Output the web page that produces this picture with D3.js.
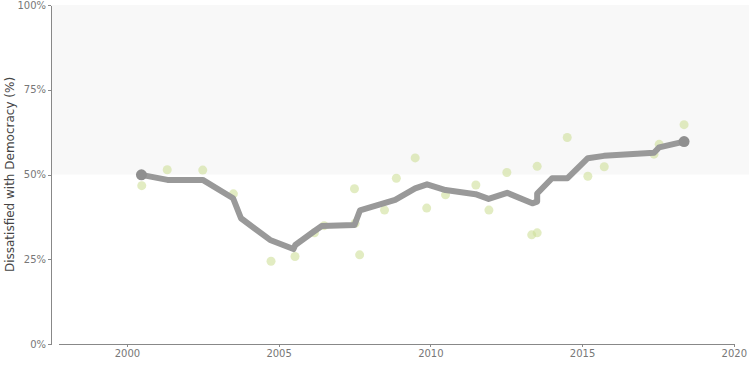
<!DOCTYPE html>
<head>
<meta charset="utf-8">
<title>Dissatisfied with Democracy</title>
<script src="https://cdn.jsdelivr.net/npm/d3@7/dist/d3.min.js"></script>
<style>
	body { margin: 0; background: #fff; }
	.axis text {
		font: 10px "DejaVu Sans", sans-serif;
		fill: #777;
	}
	.axis path,
	.axis line {
		fill: none;
		stroke: #888;
		shape-rendering: crispEdges;
	}
</style>
</head>

<body>
<script>
var width = 754;
var height = 377;

// survey points (year, share dissatisfied)
var surveyYears = [2000.49, 2001.33, 2002.5, 2003.51, 2004.75, 2005.54, 2006.18, 2006.5,
	2007.5, 2007.52, 2007.67, 2008.49, 2008.88, 2009.5, 2009.88, 2010.5, 2011.5, 2011.93,
	2012.52, 2013.34, 2013.52, 2013.52, 2014.51, 2015.19, 2015.73, 2017.37, 2017.54, 2018.36];
var surveyValues = [46.7, 51.4, 51.3, 44.3, 24.4, 25.8, 32.8, 34.9,
	45.8, 35.6, 26.3, 39.5, 48.9, 54.9, 40.1, 44.0, 46.9, 39.5,
	50.6, 32.2, 32.8, 52.4, 60.9, 49.5, 52.3, 56.0, 58.9, 64.7];

// smoothed trend line
var trendYears = [2000.48, 2001.34, 2002.5, 2003.5, 2003.76, 2004.72, 2005.49, 2005.55,
	2006.15, 2006.42, 2007.5, 2007.68, 2008.84, 2009.5, 2009.89, 2010.5, 2011.49, 2011.92,
	2012.53, 2013.36, 2013.52, 2013.52, 2014.01, 2014.52, 2015.19, 2015.72, 2017.37, 2017.54, 2018.36];
var trendValues = [49.9, 48.4, 48.4, 43.0, 37.1, 30.7, 28.0, 29.2,
	33.1, 34.8, 35.1, 39.4, 42.5, 45.9, 47.1, 45.4, 44.2, 42.8,
	44.6, 41.5, 42.0, 44.4, 48.9, 48.9, 54.8, 55.5, 56.4, 58.0, 59.7];

var yTicks = [0, 25, 50, 75, 100];
var xTicks = [2000, 2005, 2010, 2015, 2020];

var svg = d3.select('body').append('svg')
	.attr('width', width)
	.attr('height', height);

var xScale = d3.scaleLinear().domain([1997.5, 2020.5]).range([51, 749]);
var yScale = d3.scaleLinear().domain([0, 100]).range([344, 5]);

// shaded upper half
svg.append('rect')
	.attr('x', xScale(1997.5))
	.attr('y', yScale(100))
	.attr('width', xScale(2020.5) - xScale(1997.5))
	.attr('height', yScale(50) - yScale(100))
	.style('fill', '#f8f8f8');

// axes
var xAxisScale = d3.scaleLinear().domain([1997.75, 2020]).range([xScale(1997.75), xScale(2020)]);
svg.append('g')
	.attr('class', 'axis')
	.attr('transform', 'translate(0,' + yScale(0) + ')')
	.call(d3.axisBottom(xAxisScale).tickValues(xTicks).tickFormat(d3.format('d'))
		.tickSize(3).tickSizeOuter(0).tickPadding(3));

svg.append('g')
	.attr('class', 'axis')
	.attr('transform', 'translate(' + xScale(1997.5) + ',0)')
	.call(d3.axisLeft(yScale).tickValues(yTicks).tickFormat(function(d) { return d + '%'; })
		.tickSize(3).tickSizeOuter(0).tickPadding(2));

svg.append('text')
	.attr('transform', 'translate(14,' + yScale(50) + ') rotate(-90)')
	.attr('text-anchor', 'middle')
	.style('font', '12px "DejaVu Sans", sans-serif')
	.style('fill', '#444')
	.text('Dissatisfied with Democracy (%)');

// survey dots
svg.selectAll('circle.survey').data(surveyYears).enter()
	.append('circle')
	.attr('class', 'survey')
	.attr('cx', function(d) { return xScale(d); })
	.attr('cy', function(d, i) { return yScale(surveyValues[i]); })
	.attr('r', 4.5)
	.style('fill', '#cfe09a')
	.style('opacity', 0.6);

// trend line
var line = d3.line()
	.x(function(d) { return xScale(d); })
	.y(function(d, i) { return yScale(trendValues[i]); });

svg.append('path')
	.datum(trendYears)
	.attr('d', line)
	.style('fill', 'none')
	.style('stroke', '#999')
	.style('stroke-width', 6)
	.style('stroke-linejoin', 'round');

// end points
var last = trendYears.length - 1;
svg.selectAll('circle.end').data([0, last]).enter()
	.append('circle')
	.attr('class', 'end')
	.attr('cx', function(i) { return xScale(trendYears[i]); })
	.attr('cy', function(i) { return yScale(trendValues[i]); })
	.attr('r', 5.5)
	.style('fill', '#8f8f8f');
</script>
</body>
